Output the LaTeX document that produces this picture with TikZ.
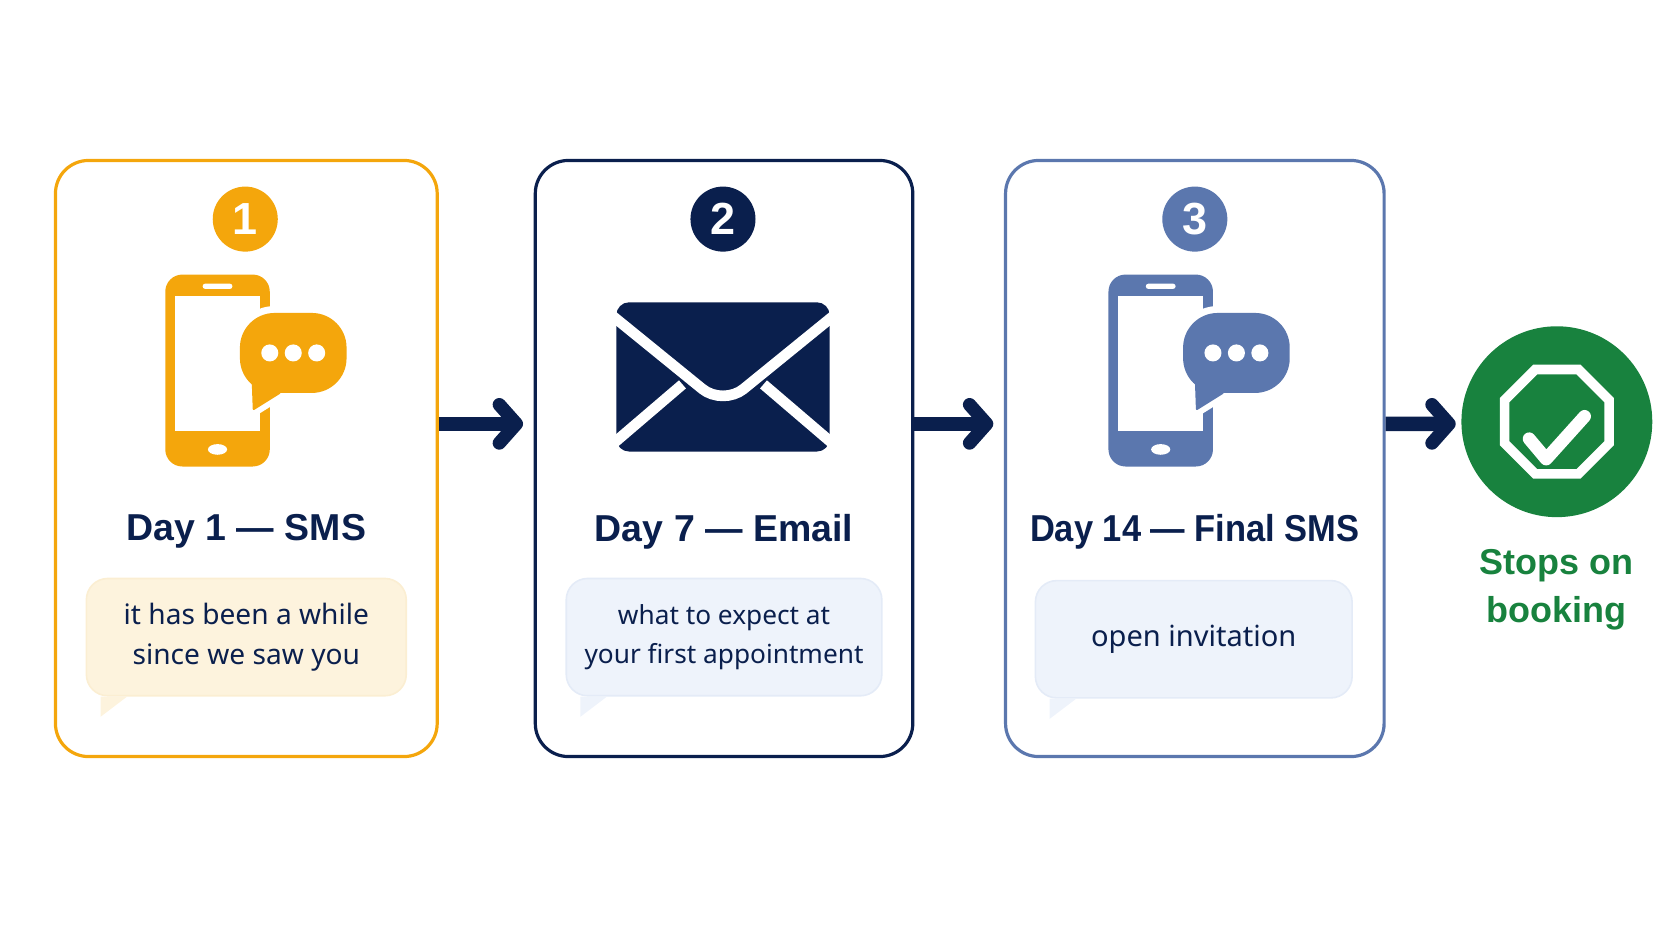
\documentclass[tikz,border=0pt]{standalone}
\usepackage{fontspec}
\setmainfont{Noto Sans}
\newfontfamily\headfont{Liberation Sans}
\usepackage{tikz}
\usetikzlibrary{shapes,arrows.meta}
\definecolor{amber}{RGB}{244,166,12}
\definecolor{navy}{RGB}{10,31,77}
\definecolor{slate}{RGB}{91,119,174}
\definecolor{leaf}{RGB}{24,130,62}
\definecolor{amberpale}{RGB}{253,243,221}
\definecolor{amberline}{RGB}{251,238,210}
\definecolor{bluepale}{RGB}{238,243,251}
\definecolor{blueline}{RGB}{228,235,247}
\tikzstyle{card} = [draw, rectangle, line width=0.06cm, rounded corners=0.62cm, minimum height=11.18cm]
\tikzstyle{badge} = [circle, inner sep=0, minimum size=1.22cm, text=white, font=\headfont\fontsize{24}{24}\selectfont\bfseries]
\tikzstyle{heading} = [text=navy, font=\headfont\fontsize{20}{25}\selectfont\bfseries]
\tikzstyle{message} = [rectangle, rounded corners=0.4cm, line width=0.03cm, minimum height=2.2cm, align=center, text=navy]
\tikzstyle{flow} = [-{Straight Barb[length=0.32cm,width=0.72cm,line width=0.25cm,round]}, navy, line width=0.27cm]
% phone with speech bubble
\newcommand{\phoneicon}[2]{
  \begin{scope}[shift={#2}]
    \fill [#1, rounded corners=0.32cm] (-0.98,-1.8) rectangle (0.98,1.8);
    \fill [white] (-0.8,-1.14) rectangle (0.8,1.4);
    \fill [white, rounded corners=0.05cm] (-0.28,1.53) rectangle (0.28,1.63);
    \fill [white] (0,-1.48) ellipse (0.18 and 0.1);
    \draw [white, fill=white, line width=0.26cm, rounded corners=0.65cm] (0.42,-0.42) rectangle (2.42,1.08);
    \draw [white, fill=white, line width=0.26cm, line join=round] (0.66,-0.16) -- (0.68,-0.72) -- (1.16,-0.42) -- cycle;
    \fill [#1, rounded corners=0.65cm] (0.42,-0.42) rectangle (2.42,1.08);
    \draw [#1, fill=#1, line width=0.04cm, line join=round] (0.66,-0.16) -- (0.68,-0.72) -- (1.16,-0.42) -- cycle;
    \foreach \dotx in {0.98,1.42,1.86}
      \fill [white] (\dotx,0.33) circle (0.16);
  \end{scope}
}
% little tail under a message box
\newcommand{\msgtail}[2]{
  \fill [#2] ([xshift=0.28cm]#1.south west) -- ([xshift=0.28cm,yshift=-0.38cm]#1.south west) -- ([xshift=0.78cm]#1.south west) -- cycle;
}
\begin{document}
\begin{tikzpicture}
  \useasboundingbox (0,0) rectangle (31.36,17.65);
  % cards
  \node [card, draw=amber, minimum width=7.16cm, name=card1] at (4.62,9.05) {};
  \node [card, draw=navy, minimum width=7.08cm, right of=card1, node distance=8.96cm, name=card2] {};
  \node [card, draw=slate, minimum width=7.1cm, right of=card2, node distance=8.83cm, name=card3] {};
  % badges
  \node [badge, fill=amber, above of=card1, node distance=4.49cm, xshift=-0.02cm, name=badge1] {1};
  \node [badge, fill=navy, above of=card2, node distance=4.49cm, xshift=-0.02cm, name=badge2] {2};
  \node [badge, fill=slate, above of=card3, node distance=4.49cm, name=badge3] {3};
  % headings
  \node [heading, below of=card1, node distance=1.37cm, name=head1] {Day 1 — SMS};
  \node [heading, below of=card2, node distance=1.37cm, name=head2] {Day 7 — Email};
  \node [heading, below of=card3, node distance=1.37cm, name=head3] {\scalebox{0.92}[1]{Day 14 — Final SMS}};
  % messages
  \node [message, fill=amberpale, draw=amberline, minimum width=6cm, below of=card1, node distance=3.35cm, font=\fontsize{15}{21}\selectfont, name=msg1] {it has been a while\\since we saw you};
  \node [message, fill=bluepale, draw=blueline, minimum width=5.92cm, below of=card2, node distance=3.35cm, font=\fontsize{14}{21}\selectfont, name=msg2] {what to expect at\\your first appointment};
  \node [message, fill=bluepale, draw=blueline, minimum width=5.94cm, below of=card3, node distance=3.39cm, xshift=-0.02cm, font=\fontsize{15.5}{21}\selectfont, name=msg3] {open invitation};
  \msgtail{msg1}{amberpale}
  \msgtail{msg2}{bluepale}
  \msgtail{msg3}{bluepale}
  % icons
  \phoneicon{amber}{([shift={(-0.52,-2.84)}]badge1.center)}
  \phoneicon{slate}{([shift={(-0.64,-2.84)}]badge3.center)}
  \begin{scope}[shift={([yshift=-2.96cm]badge2.center)}]
    \fill [navy, rounded corners=0.24cm] (-2,-1.4) rectangle (2,1.4);
    \draw [white, line width=0.2cm, rounded corners=0.5cm] (-2.14,1.2) -- (0,-0.54) -- (2.14,1.2);
    \draw [white, line width=0.2cm] (-2.14,-1.32) -- (-0.76,-0.14);
    \draw [white, line width=0.2cm] (2.14,-1.32) -- (0.76,-0.14);
  \end{scope}
  % end of the sequence
  \node [circle, fill=leaf, inner sep=0, minimum size=3.58cm, name=stop] at (29.2,9.74) {};
  \node [regular polygon, regular polygon sides=8, draw=white, line width=0.18cm, inner sep=0, minimum size=2.12cm, name=octagon] at (stop) {};
  \draw [white, line width=0.24cm, line cap=round, line join=round] ([shift={(-0.52,-0.32)}]stop.center) -- ([shift={(-0.2,-0.7)}]stop.center) -- ([shift={(0.52,0.1)}]stop.center);
  \node [below of=stop, node distance=3.06cm, yshift=-0.09cm, align=center, text=leaf, font=\headfont\fontsize{19.2}{25.5}\selectfont\bfseries, name=stoplabel] {Stops on\\booking};
  % edges
  \draw [flow] ([yshift=0.65cm]card1.east) -- ([xshift=-0.2cm,yshift=0.65cm]card2.west);
  \draw [flow] ([yshift=0.65cm]card2.east) -- ([xshift=-0.2cm,yshift=0.65cm]card3.west);
  \draw [flow] ([yshift=0.65cm]card3.east) -- ([xshift=-0.1cm,yshift=-0.04cm]stop.west);
\end{tikzpicture}
\end{document}
